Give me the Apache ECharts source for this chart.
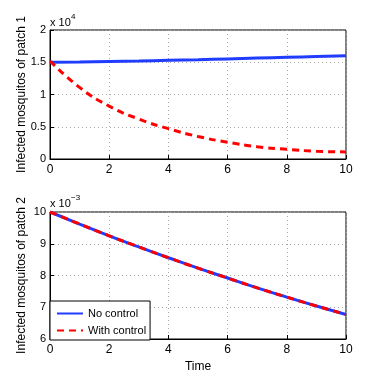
<!DOCTYPE html>
<html>
<head>
<meta charset="utf-8">
<script src="https://cdn.jsdelivr.net/npm/echarts@6/dist/echarts.min.js"></script>
<style>
  html, body { margin: 0; padding: 0; background: #fff; }
  #container { width: 382px; height: 382px; }
</style>
</head>
<body>
<div id="container"></div>
<script>
// time points
var time = [0, 1, 2, 3, 4, 5, 6, 7, 8, 9, 10];
// patch 1 (x 10^4)
var patch1NoControl = [1.50, 1.505, 1.512, 1.52, 1.53, 1.54, 1.552, 1.564, 1.576, 1.588, 1.60];
var patch1WithControl = [1.52, 1.11, 0.82, 0.62, 0.47, 0.35, 0.26, 0.19, 0.15, 0.12, 0.11];
// patch 2 (x 10^-3)
var patch2NoControl = [10, 9.62, 9.25, 8.90, 8.56, 8.23, 7.92, 7.61, 7.32, 7.04, 6.77];
var patch2WithControl = [10, 9.62, 9.25, 8.90, 8.56, 8.23, 7.92, 7.61, 7.32, 7.04, 6.77];

function pairs(ys) {
    var out = [];
    for (var i = 0; i < time.length; i++) out.push([time[i], ys[i]]);
    return out;
}

var font = '"Liberation Sans", Arial, sans-serif';
var blue = '#1f3cff';
var red = '#ff0000';

function xAxis(idx, name) {
    return {
        type: 'value', gridIndex: idx, min: 0, max: 10, interval: 2,
        name: name || '', nameLocation: 'middle', nameGap: 22,
        nameTextStyle: { color: '#000', fontSize: 12, fontFamily: font },
        axisLine: { lineStyle: { color: '#000' } },
        axisTick: { inside: true, length: 4, lineStyle: { color: '#000' } },
        axisLabel: { color: '#000', fontSize: 12, fontFamily: font, margin: 5 },
        splitLine: { show: true, lineStyle: { color: '#aaa', type: [1, 3] } }
    };
}
function yAxis(idx, min, max, interval, name) {
    return {
        type: 'value', gridIndex: idx, min: min, max: max, interval: interval,
        name: name, nameLocation: 'middle', nameGap: 22, nameMoveOverlap: false,
        nameTextStyle: { color: '#000', fontSize: 12, fontFamily: font },
        axisLine: { show: true, lineStyle: { color: '#000' } },
        axisTick: { show: true, inside: true, length: 4, lineStyle: { color: '#000' } },
        axisLabel: { color: '#000', fontSize: 11, fontFamily: font, margin: 4 },
        splitLine: { show: true, lineStyle: { color: '#aaa', type: [1, 3] } }
    };
}

var myChart = echarts.init(document.getElementById('container'));

var option = {
    animation: false,
    backgroundColor: '#fff',
    grid: [
        { left: 50, top: 30, width: 296, height: 129, show: true, borderColor: '#000', borderWidth: 1 },
        { left: 50, top: 212, width: 296, height: 127, show: true, borderColor: '#000', borderWidth: 1 }
    ],
    xAxis: [xAxis(0), xAxis(1, 'Time')],
    yAxis: [
        yAxis(0, 0, 2, 0.5, 'Infected mosquitos of patch 1'),
        yAxis(1, 6, 10, 1, 'Infected mosquitos of patch 2')
    ],
    legend: {
        left: 50, top: 301, orient: 'vertical',
        itemWidth: 26, itemHeight: 10, itemGap: 6,
        padding: [7, 4, 4, 6],
        backgroundColor: '#fff', borderColor: '#000', borderWidth: 1,
        itemStyle: { opacity: 0 },
        textStyle: { color: '#000', fontSize: 11, fontFamily: font },
        data: ['No control', 'With control']
    },
    graphic: [
        { type: 'text', left: 50, top: 17, style: { text: 'x 10', font: '11px ' + font, fill: '#000' } },
        { type: 'text', left: 71, top: 13, style: { text: '4', font: '8px ' + font, fill: '#000' } },
        { type: 'text', left: 50, top: 198, style: { text: 'x 10', font: '11px ' + font, fill: '#000' } },
        { type: 'text', left: 71, top: 194, style: { text: '\u22123', font: '8px ' + font, fill: '#000' } }
    ],
    series: [
        { name: 'No control', type: 'line', xAxisIndex: 0, yAxisIndex: 0, data: pairs(patch1NoControl),
          smooth: true, symbol: 'none', lineStyle: { color: blue, width: 3 }, itemStyle: { color: blue } },
        { name: 'With control', type: 'line', xAxisIndex: 0, yAxisIndex: 0, data: pairs(patch1WithControl),
          smooth: true, symbol: 'none', lineStyle: { color: red, width: 3, type: [7, 5] }, itemStyle: { color: red } },
        { name: 'No control', type: 'line', xAxisIndex: 1, yAxisIndex: 1, data: pairs(patch2NoControl),
          smooth: true, symbol: 'none', lineStyle: { color: blue, width: 3 }, itemStyle: { color: blue } },
        { name: 'With control', type: 'line', xAxisIndex: 1, yAxisIndex: 1, data: pairs(patch2WithControl),
          smooth: true, symbol: 'none', lineStyle: { color: red, width: 3, type: [7, 5] }, itemStyle: { color: red } }
    ]
};

myChart.setOption(option);
</script>
</body>
</html>
